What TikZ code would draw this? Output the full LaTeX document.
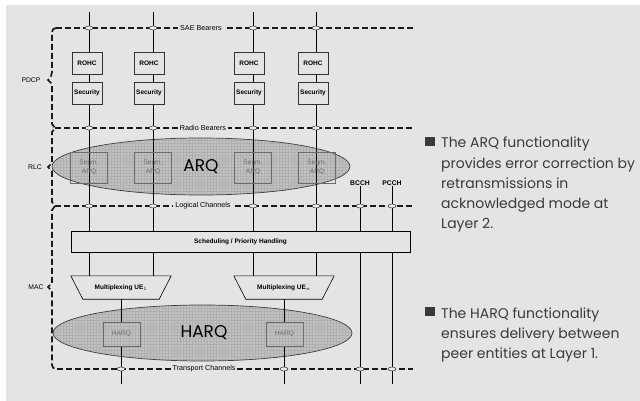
\documentclass[tikz,border=0pt]{standalone}
\usepackage{fontspec}
\setmainfont{Liberation Sans}
\newfontfamily\bulletfont{Poppins}
\usetikzlibrary{shapes.geometric,patterns}
\pgfdeclarelayer{back}
\pgfdeclarelayer{paper}
\pgfsetlayers{paper,back,main}
\definecolor{bg}{HTML}{E4E4E4}
\definecolor{ellfill}{HTML}{C2C2C2}
\definecolor{gridc}{HTML}{B0B0B0}
\definecolor{txt}{HTML}{3A3A3A}
\definecolor{segm}{HTML}{6C6C6C}
\begin{document}
\begin{tikzpicture}[x=1pt,y=-1pt,
  box/.style={draw=black!80, fill=bg, line width=0.5pt, minimum width=30pt, minimum height=22pt, inner sep=0pt, font=\fontsize{6.5}{7}\selectfont\bfseries},
  segmbox/.style={draw=segm, line width=0.7pt, minimum width=37pt, minimum height=31pt, inner sep=0pt, text=segm, align=center, font=\fontsize{6.6}{8.5}\selectfont},
  harqbox/.style={segmbox, minimum height=24pt, preaction={fill=ellfill}, pattern=grid, pattern color=gridc},
  bigell/.style={ellipse, draw=black!75, line width=0.7pt, preaction={fill=ellfill}, pattern=grid, pattern color=gridc, inner sep=0pt},
  bigtxt/.style={font=\bulletfont\fontsize{17}{17}\selectfont, inner sep=0pt},
  chan/.style={dash pattern=on 6pt off 3pt, line width=1.7pt, draw=black!90},
  chanlabel/.style={fill=bg, inner sep=2pt, font=\fontsize{7.2}{8}\selectfont},
  vline/.style={line width=0.75pt},
  oval/.style={ellipse, draw=black!80, fill=black!8, line width=0.5pt, minimum width=8pt, minimum height=4pt, inner sep=0pt},
  mux/.style={minimum width=100pt, minimum height=23pt, inner sep=0pt, font=\fontsize{6.5}{7}\selectfont\bfseries},
  trap/.style={draw, line width=0.6pt, fill=bg},
  lay/.style={font=\fontsize{6.8}{7}\selectfont, inner sep=0pt},
  dots/.style={font=\fontsize{5}{5}\selectfont, inner sep=0pt},
  bul/.style={anchor=base west, text=txt, font=\bulletfont\fontsize{14}{20}\selectfont, inner sep=0pt},
  sq/.style={fill=txt, minimum size=9.5pt, inner sep=0pt},
]
\useasboundingbox (0,0) rectangle (640,401);
\begin{pgfonlayer}{paper}
\fill[white] (0,0) rectangle (640,401);
\fill[bg] (6,5) rectangle (640,401);
\end{pgfonlayer}

% coordinates
\coordinate (top1) at (89,12);
\coordinate (top2) at (153,12);
\coordinate (top3) at (253,12);
\coordinate (top4) at (316,12);
\coordinate (sae) at (56,28);   \coordinate (saeE) at (413,28);
\coordinate (rb) at (55,128);   \coordinate (rbE) at (413,128);
\coordinate (lc) at (55,206);   \coordinate (lcE) at (413,206);
\coordinate (tc) at (57,369);   \coordinate (tcE) at (413,369);
\coordinate (bot1) at (121,384);
\coordinate (bot2) at (284,384);
\coordinate (bot3) at (360,384);
\coordinate (bot4) at (392,384);

% main nodes
\node[box] (rohc1) at (87,63) {ROHC};
\node[box] (rohc2) at (149,63) {ROHC};
\node[box] (rohc3) at (249,63) {ROHC};
\node[box] (rohc4) at (313,63) {ROHC};
\node[box] (sec1) at (87,93) {Security};
\node[box] (sec2) at (149,93) {Security};
\node[box] (sec3) at (249,93) {Security};
\node[box] (sec4) at (313,93) {Security};

\begin{pgfonlayer}{back}
\node[bigell, minimum width=298pt, minimum height=57pt] (arqell) at (201,166.5) {};
\node[bigell, minimum width=299pt, minimum height=56pt] (harqell) at (202.5,333) {};
\end{pgfonlayer}

\node[segmbox] (segm1) at (89,167.5) {Segm.\\ARQ};
\node[segmbox] (segm2) at (153,167.5) {Segm.\\ARQ};
\node[segmbox] (segm3) at (253,167.5) {Segm.\\ARQ};
\node[segmbox] (segm4) at (317,167.5) {Segm.\\ARQ};
\node[bigtxt] (arqtxt) at (201,167) {ARQ};
\node[dots] (dots1) at (122,191) {...};
\node[dots] (dots2) at (284,191) {...};

\node[lay, font=\fontsize{6.8}{7}\selectfont\bfseries] (bcch) at (360,183) {BCCH};
\node[lay, font=\fontsize{6.8}{7}\selectfont\bfseries] (pcch) at (392,183) {PCCH};

\node[draw, line width=0.5pt, fill=bg, minimum width=339pt, minimum height=21pt, inner sep=0pt, font=\fontsize{6.5}{7}\selectfont\bfseries] (sched) at (240.5,241.5) {Scheduling / Priority Handling};

\node[mux] (mux1) at (121,287.5) {Multiplexing UE$_1$};
\node[mux] (muxn) at (284,287.5) {Multiplexing UE$_n$};

\node[harqbox] (harq1) at (121.5,334) {HARQ};
\node[harqbox] (harq2) at (284.5,334) {HARQ};
\node[bigtxt] (harqtxt) at (204,333) {HARQ};

% layer labels
\node[lay] (pdcp) at (31,80) {PDCP};
\node[lay] (rlc) at (35,167) {RLC};
\node[lay] (mac) at (36,287) {MAC};

\begin{pgfonlayer}{back}
% vertical lines
\draw[vline] (top1) -- (top1 |- mux1.north);
\draw[vline] (top2) -- (top2 |- mux1.north);
\draw[vline] (top3) -- (top3 |- muxn.north);
\draw[vline] (top4) -- (top4 |- muxn.north);
\draw[vline] (mux1.south) -- (bot1);
\draw[vline] (muxn.south) -- (bot2);
\draw[vline] (bcch.south) -- (bot3);
\draw[vline] (pcch.south) -- (bot4);
% multiplexer outlines
\foreach \m in {mux1,muxn}{
  \draw[trap] (\m.north west) -- (\m.north east) -- ([xshift=-12pt]\m.south east) -- ([xshift=12pt]\m.south west) -- cycle;
}
% channels
\draw[chan] (sae) -- (saeE);
\draw[chan] (rb) -- (rbE);
\draw[chan] (lc) -- (lcE);
\draw[chan] (tc) -- (tcE);
% braces
\draw[chan] (sae) [rounded corners=4pt] -| (52,76) [sharp corners] -- (48,80) -- (52,84) -- (52,124) -- (rb) -- (52,132) -- (52,163) -- (48,167) -- (52,171) -- (52,202) -- (lc) -- (52,210) -- (52,283) -- (48,287) -- (52,291) [rounded corners=4pt] |- (tc);
\end{pgfonlayer}

\node[chanlabel] (saelab) at (201,28) {SAE Bearers};
\node[chanlabel] (rblab) at (203,128) {Radio Bearers};
\node[chanlabel] (lclab) at (203,206) {Logical Channels};
\node[chanlabel] (tclab) at (204,369) {Transport Channels};

% crossing ovals
\foreach \t in {top1,top2,top3,top4}{
  \node[oval] at (\t |- sae) {};
  \node[oval] at (\t |- rb) {};
  \node[oval] at (\t |- lc) {};
}
\foreach \t in {bot3,bot4}{
  \node[oval] at (\t |- lc) {};
}
\foreach \t in {bot1,bot2,bot3,bot4}{
  \node[oval] at (\t |- tc) {};
}

% bullet text
\node[sq] (sq1) at (430,141.5) {};
\node[bul] (t1) at (441,148) {The ARQ functionality};
\node[bul] (t2) at (441,168) {provides error correction by};
\node[bul] (t3) at (441,188) {retransmissions in};
\node[bul] (t4) at (441,208) {acknowledged mode at};
\node[bul] (t5) at (441,228) {Layer 2.};
\node[sq] (sq2) at (430,311.5) {};
\node[bul] (u1) at (441,318) {The HARQ functionality};
\node[bul] (u2) at (441,338) {ensures delivery between};
\node[bul] (u3) at (441,358) {peer entities at Layer 1.};
\end{tikzpicture}
\end{document}
